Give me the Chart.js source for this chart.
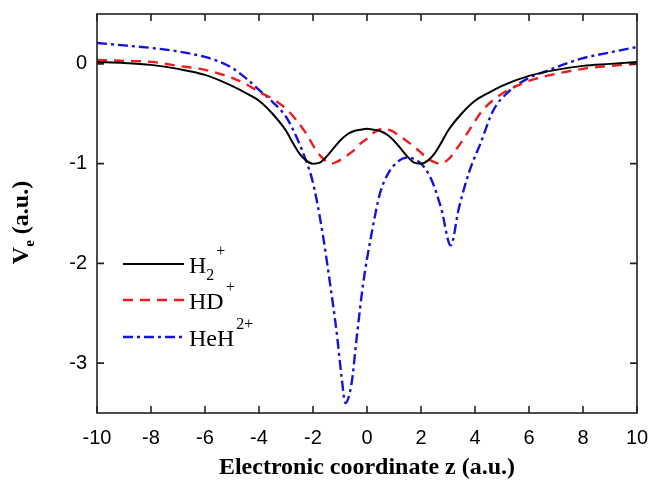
<!DOCTYPE html>
<html>
<head>
<meta charset="utf-8">
<script src="https://cdn.jsdelivr.net/npm/chart.js@4"></script>
<style>
  html, body { margin: 0; padding: 0; background: #fff; }
  #wrap { width: 652px; height: 487px; }
</style>
</head>
<body>
<div id="wrap"><canvas id="ve_chart"></canvas></div>
<script>
// values
var zH2 = [-10, -9, -8, -7, -6, -5, -4.5, -4, -3.5, -3, -2.75, -2.5, -2.25, -2, -1.75, -1.5, -1.25, -1, -0.75, -0.5, -0.25, 0,
           0.25, 0.5, 0.75, 1, 1.25, 1.5, 1.75, 2, 2.25, 2.5, 2.75, 3, 3.5, 4, 4.5, 5, 6, 7, 8, 9, 10];
var vH2 = [0.02, 0.01, -0.01, -0.05, -0.11, -0.22, -0.29, -0.37, -0.5, -0.67, -0.79, -0.9, -0.97, -1.0, -0.99, -0.93, -0.85, -0.77, -0.71, -0.675, -0.66, -0.65,
           -0.66, -0.675, -0.71, -0.77, -0.85, -0.93, -0.99, -1.0, -0.97, -0.9, -0.79, -0.67, -0.5, -0.37, -0.29, -0.22, -0.12, -0.06, -0.02, 0.0, 0.02];

var zHD = [-10, -9, -8, -7, -6, -5, -4.5, -4, -3.5, -3, -2.6, -2.3, -2.1, -1.9, -1.7, -1.5, -1.33, -1.1, -0.8, -0.5, -0.2, 0, 0.3, 0.6,
           0.9, 1.3, 1.6, 1.96, 2.2, 2.45, 2.7, 3.0, 3.3, 3.7, 4.3, 5.0, 6.0, 7.0, 8.0, 9.0, 10];
var vHD = [0.04, 0.03, 0.02, -0.02, -0.06, -0.14, -0.2, -0.28, -0.35, -0.45, -0.57, -0.68, -0.77, -0.86, -0.93, -0.98, -1.0, -0.98, -0.93, -0.87, -0.79, -0.75, -0.68, -0.65,
           -0.67, -0.74, -0.8, -0.88, -0.94, -0.98, -1.0, -0.96, -0.86, -0.7, -0.46, -0.3, -0.17, -0.1, -0.05, -0.02, 0.0];

var zHeH = [-10, -9, -8, -7, -6.5, -6, -5.5, -5, -4.5, -4, -3.5, -3, -2.6, -2.3, -2.05, -1.86, -1.62, -1.37, -1.12, -0.94, -0.8, -0.57, -0.38, -0.14, 0.17, 0.48, 0.78,
            1.1, 1.48, 1.8, 2.07, 2.4, 2.75, 3.1, 3.4, 3.8, 4.2, 4.67, 5.2, 5.93, 6.67, 7.9, 9.1, 10];
var vHeH = [0.21, 0.185, 0.16, 0.125, 0.1, 0.07, 0.025, -0.04, -0.14, -0.26, -0.38, -0.53, -0.74, -0.94, -1.14, -1.37, -1.74, -2.2, -2.7, -3.14, -3.4, -3.2, -2.74, -2.2, -1.7, -1.3, -1.1,
            -0.99, -0.94, -0.96, -1.02, -1.17, -1.45, -1.82, -1.45, -1.07, -0.8, -0.47, -0.29, -0.15, -0.07, 0.05, 0.12, 0.17];

var xTicks = [-10, -8, -6, -4, -2, 0, 2, 4, 6, 8, 10];
var yTicks = [-3, -2, -1, 0];

// legend text pieces: [text, "" | "sub" | "sup"]
var labelH2 = [["H", ""], ["2", "sub"], ["+", "sup"]];
var labelHD = [["HD", ""], ["+", "sup"]];
var labelHeH = [["HeH", ""], ["2+", "sup"]];

function pts(xs, ys) {
    return xs.map(function (x, i) { return { x: x, y: ys[i] }; });
}

// frame + inward ticks on all four sides, y title, legend
var framePlugin = {
    id: "frame",
    afterDraw: function (chart) {
        var ctx = chart.ctx;
        var a = chart.chartArea;
        var xs = chart.scales.x, ys = chart.scales.y;
        var len = 7;
        ctx.save();
        ctx.strokeStyle = "#222";
        ctx.lineWidth = 1.6;
        ctx.strokeRect(a.left, a.top, a.right - a.left, a.bottom - a.top);
        ctx.beginPath();
        xTicks.forEach(function (v) {
            var px = xs.getPixelForValue(v);
            ctx.moveTo(px, a.bottom); ctx.lineTo(px, a.bottom - len);
            ctx.moveTo(px, a.top); ctx.lineTo(px, a.top + len);
        });
        yTicks.forEach(function (v) {
            var py = ys.getPixelForValue(v);
            ctx.moveTo(a.left, py); ctx.lineTo(a.left + len, py);
            ctx.moveTo(a.right, py); ctx.lineTo(a.right - len, py);
        });
        ctx.stroke();

        // y title with subscript e
        ctx.translate(22, (a.top + a.bottom) / 2 + 9);
        ctx.rotate(-Math.PI / 2);
        ctx.fillStyle = "#000";
        ctx.textBaseline = "middle";
        var big = "bold 24px 'Liberation Serif'";
        var small = "bold 15px 'Liberation Serif'";
        ctx.font = big;
        var wV = ctx.measureText("V").width;
        var wRest = ctx.measureText(" (a.u.)").width;
        ctx.font = small;
        var wE = ctx.measureText("e").width;
        var x0 = -(wV + wE + wRest) / 2;
        ctx.font = big;
        ctx.fillText("V", x0, 0);
        ctx.font = small;
        ctx.fillText("e", x0 + wV, 8);
        ctx.font = big;
        ctx.fillText(" (a.u.)", x0 + wV + wE, 0);
        ctx.restore();

        // legend
        var labels = [labelH2, labelHD, labelHeH];
        var rowY = [264, 300, 337];
        ctx.save();
        chart.data.datasets.forEach(function (ds, i) {
            var y = rowY[i];
            ctx.strokeStyle = ds.borderColor;
            ctx.lineWidth = ds.borderWidth;
            ctx.setLineDash(ds.borderDash || []);
            ctx.beginPath();
            ctx.moveTo(123, y); ctx.lineTo(184, y);
            ctx.stroke();
            ctx.setLineDash([]);
            var x = 189;
            ctx.fillStyle = "#000";
            ctx.textBaseline = "alphabetic";
            labels[i].forEach(function (p) {
                if (p[1] === "") {
                    ctx.font = "24px 'Liberation Serif'";
                    ctx.fillText(p[0], x, y + 9);
                } else if (p[1] === "sub") {
                    ctx.font = "16px 'Liberation Serif'";
                    ctx.fillText(p[0], x, y + 16);
                } else {
                    ctx.font = "16px 'Liberation Serif'";
                    ctx.fillText(p[0], x + 2, y - 8);
                }
                x += ctx.measureText(p[0]).width;
            });
        });
        ctx.restore();
    }
};

var vechart = new Chart("ve_chart", {
    type: "line",
    data: {
        datasets: [
            {
                label: "H2+",
                data: pts(zH2, vH2),
                borderColor: "#000000",
                borderWidth: 2,
            },
            {
                label: "HD+",
                data: pts(zHD, vHD),
                borderColor: "#ee1c1c",
                borderWidth: 2.4,
                borderDash: [10, 7],
            },
            {
                label: "HeH2+",
                data: pts(zHeH, vHeH),
                borderColor: "#1414dc",
                borderWidth: 2.4,
                borderDash: [10, 4, 3, 4],
            },
        ],
    },
    options: {
        responsive: true,
        maintainAspectRatio: false,
        animation: false,
        layout: { padding: { left: 0, right: 15, top: 14, bottom: 0 } },
        elements: {
            point: { radius: 0 },
            line: { cubicInterpolationMode: "monotone", fill: false },
        },
        plugins: {
            legend: { display: false },
            tooltip: { enabled: false },
        },
        scales: {
            x: {
                type: "linear",
                min: -10,
                max: 10,
                afterBuildTicks: function (axis) {
                    axis.ticks = xTicks.map(function (v) { return { value: v }; });
                },
                afterFit: function (axis) {
                    axis.height = 74;
                    axis.paddingLeft = 0;
                    axis.paddingRight = 0;
                },
                grid: { display: false, drawTicks: false },
                border: { display: false },
                ticks: {
                    color: "#000",
                    padding: 13,
                    maxRotation: 0,
                    font: { family: "'Liberation Sans'", size: 20 },
                },
                title: {
                    display: true,
                    text: "Electronic coordinate z (a.u.)",
                    color: "#000",
                    padding: { top: 0, bottom: 5 },
                    font: { family: "'Liberation Serif'", size: 24, weight: "bold" },
                },
            },
            y: {
                min: -3.5,
                max: 0.5,
                afterBuildTicks: function (axis) {
                    axis.ticks = yTicks.map(function (v) { return { value: v }; });
                },
                afterFit: function (axis) {
                    axis.width = 97;
                    axis.paddingTop = 0;
                    axis.paddingBottom = 0;
                },
                grid: { display: false, drawTicks: false },
                border: { display: false },
                ticks: {
                    color: "#000",
                    padding: 10,
                    font: { family: "'Liberation Sans'", size: 20 },
                },
            },
        },
    },
    plugins: [framePlugin],
});
</script>
</body>
</html>
